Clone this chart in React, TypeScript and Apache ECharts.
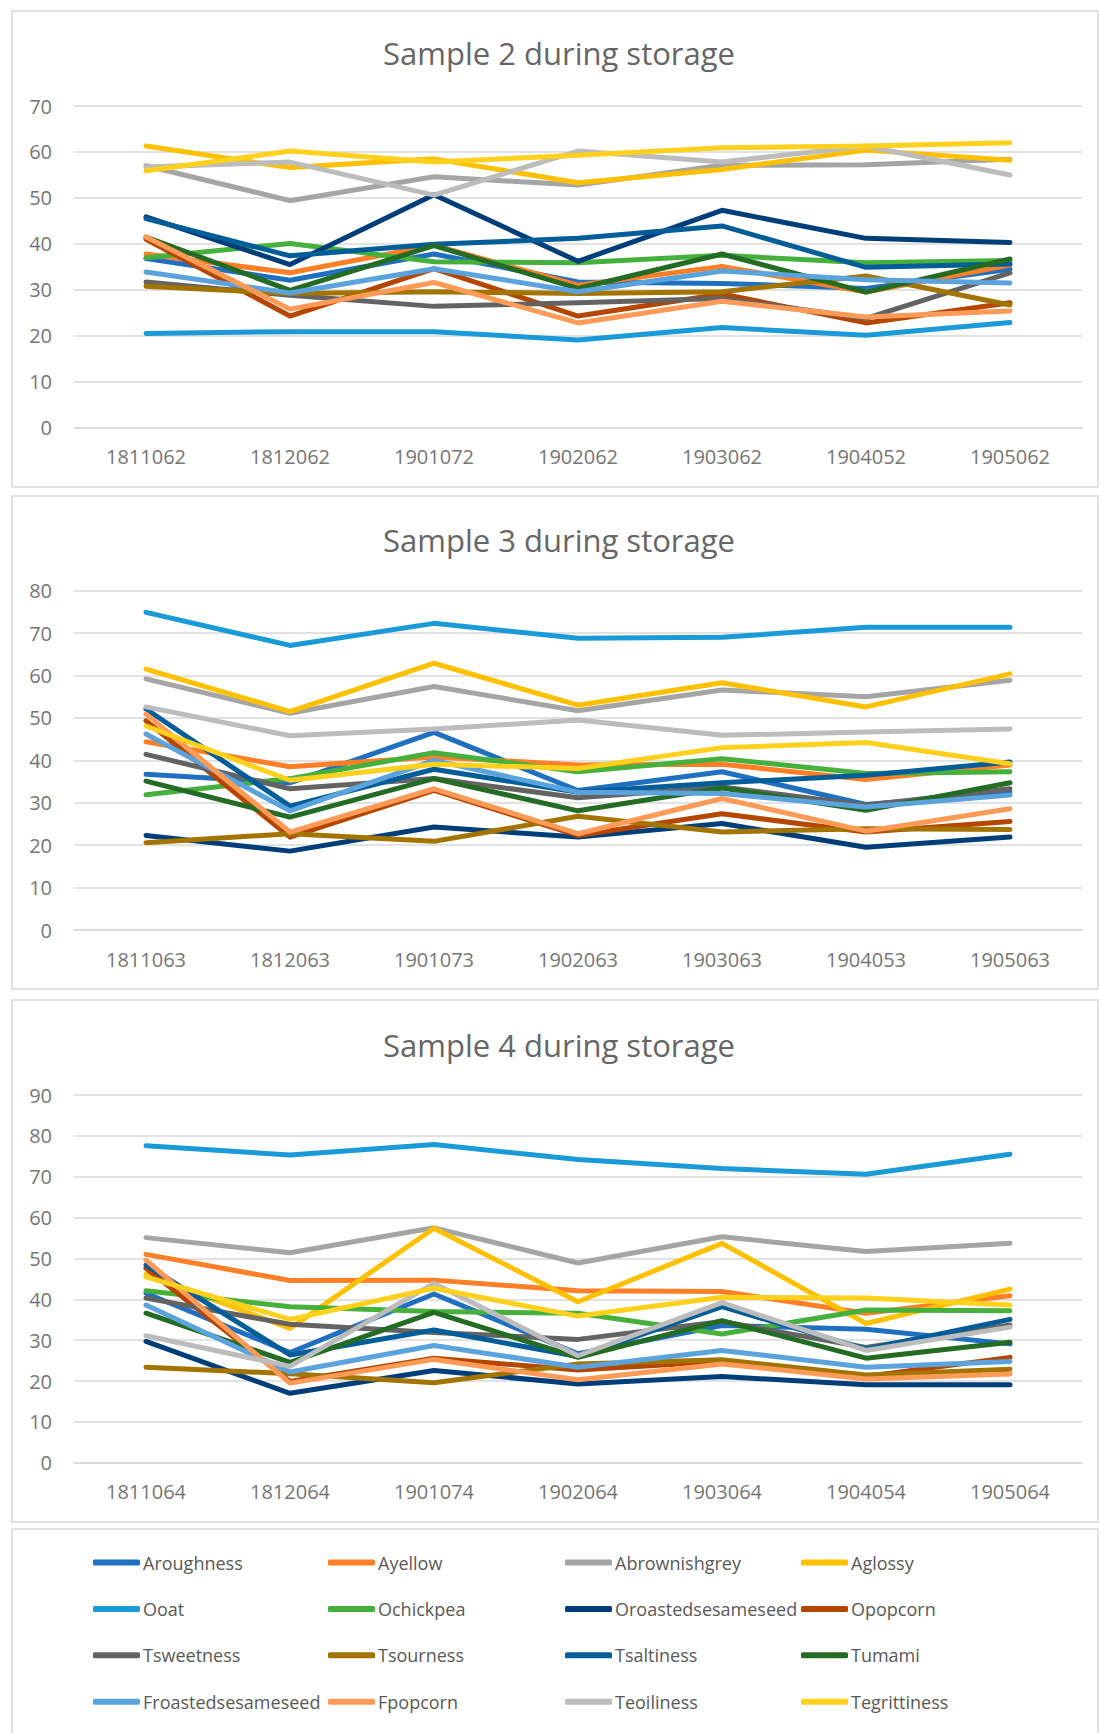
import React, { useEffect, useRef } from "react";
import * as echarts from "echarts";

// ---------- data ----------
const seriesNames = [
  "Aroughness", "Ayellow", "Abrownishgrey", "Aglossy",
  "Ooat", "Ochickpea", "Oroastedsesameseed", "Opopcorn",
  "Tsweetness", "Tsourness", "Tsaltiness", "Tumami",
  "Froastedsesameseed", "Fpopcorn", "Teoiliness", "Tegrittiness",
];
const seriesColors = [
  "#1F70C1", "#FF7F27", "#A5A5A5", "#FFC000",
  "#1A9AD6", "#46B03C", "#003E7A", "#B44600",
  "#636363", "#A37400", "#025D99", "#246B24",
  "#5BA3DD", "#FF9A57", "#BCBCBC", "#FFD11C",
];

const titles = ["Sample 2 during storage", "Sample 3 during storage", "Sample 4 during storage"];
const cats2 = ["1811062", "1812062", "1901072", "1902062", "1903062", "1904052", "1905062"];
const cats3 = ["1811063", "1812063", "1901073", "1902063", "1903063", "1904053", "1905063"];
const cats4 = ["1811064", "1812064", "1901074", "1902064", "1903064", "1904054", "1905064"];
const yMax = [70, 80, 90];

// Sample 2
const s2Aroughness = [36.8, 32.1, 37.8, 31.7, 31.4, 30.3, 34.5];
const s2Ayellow = [37.8, 33.7, 39.7, 31.0, 35.1, 29.5, 35.4];
const s2Abrownishgrey = [57.0, 49.4, 54.6, 52.8, 57.1, 57.2, 58.4];
const s2Aglossy = [61.3, 56.6, 58.5, 53.3, 56.2, 60.4, 58.2];
const s2Ooat = [20.5, 20.9, 20.9, 19.1, 21.8, 20.1, 22.9];
const s2Ochickpea = [37.0, 40.1, 36.1, 35.9, 37.5, 35.9, 36.4];
const s2Oroastedsesameseed = [45.9, 35.5, 50.7, 36.2, 47.3, 41.2, 40.3];
const s2Opopcorn = [41.0, 24.3, 34.6, 24.3, 29.1, 22.8, 27.2];
const s2Tsweetness = [31.7, 28.8, 26.4, 27.2, 28.1, 23.8, 33.7];
const s2Tsourness = [30.8, 29.2, 29.6, 29.2, 29.6, 33.0, 26.7];
const s2Tsaltiness = [45.5, 37.4, 39.9, 41.2, 43.9, 34.9, 35.6];
const s2Tumami = [41.5, 29.9, 39.6, 30.3, 37.8, 29.5, 36.7];
const s2Froastedsesameseed = [33.9, 29.3, 34.6, 29.6, 34.1, 32.2, 31.5];
const s2Fpopcorn = [41.5, 25.8, 31.6, 22.8, 27.5, 24.1, 25.4];
const s2Teoiliness = [56.7, 57.8, 50.6, 60.2, 57.8, 61.3, 55.0];
const s2Tegrittiness = [55.9, 60.2, 57.8, 59.3, 60.9, 61.3, 62.0];

// Sample 3
const s3Aroughness = [36.7, 34.7, 46.6, 32.9, 37.3, 29.6, 32.5];
const s3Ayellow = [44.4, 38.5, 40.8, 38.9, 39.1, 35.5, 38.9];
const s3Abrownishgrey = [59.2, 51.1, 57.4, 51.7, 56.6, 55.0, 58.9];
const s3Aglossy = [61.5, 51.5, 62.9, 53.0, 58.3, 52.6, 60.4];
const s3Ooat = [74.9, 67.1, 72.3, 68.8, 69.0, 71.4, 71.4];
const s3Ochickpea = [31.9, 35.7, 41.8, 37.3, 40.4, 36.9, 37.3];
const s3Oroastedsesameseed = [22.3, 18.6, 24.3, 21.9, 25.1, 19.5, 21.9];
const s3Opopcorn = [49.3, 21.9, 32.9, 22.3, 27.4, 23.1, 25.6];
const s3Tsweetness = [41.4, 33.3, 35.7, 31.2, 33.7, 29.4, 33.3];
const s3Tsourness = [20.6, 22.7, 20.9, 26.8, 23.1, 23.9, 23.7];
const s3Tsaltiness = [52.1, 29.2, 37.9, 32.5, 34.7, 36.5, 39.6];
const s3Tumami = [35.1, 26.6, 35.7, 28.1, 33.5, 28.2, 34.7];
const s3Froastedsesameseed = [46.2, 28.1, 40.0, 32.5, 32.2, 29.0, 31.8];
const s3Fpopcorn = [50.9, 23.1, 33.3, 22.7, 31.0, 23.3, 28.6];
const s3Teoiliness = [52.6, 45.8, 47.4, 49.5, 45.9, 46.7, 47.4];
const s3Tegrittiness = [48.1, 35.3, 39.1, 38.1, 43.0, 44.2, 39.2];

// Sample 4
const s4Aroughness = [41.5, 27.0, 41.3, 26.7, 33.6, 32.7, 29.1];
const s4Ayellow = [51.0, 44.6, 44.7, 42.1, 41.9, 36.6, 40.9];
const s4Abrownishgrey = [55.1, 51.4, 57.5, 48.9, 55.3, 51.7, 53.7];
const s4Aglossy = [46.1, 32.9, 57.4, 39.4, 53.7, 34.1, 42.5];
const s4Ooat = [77.6, 75.3, 77.9, 74.2, 72.0, 70.6, 75.5];
const s4Ochickpea = [42.1, 38.2, 37.0, 36.6, 31.5, 37.4, 37.2];
const s4Oroastedsesameseed = [29.7, 17.0, 22.6, 19.3, 21.1, 19.1, 19.1];
const s4Opopcorn = [47.6, 19.9, 25.6, 22.7, 24.8, 21.1, 25.8];
const s4Tsweetness = [40.3, 33.9, 31.9, 30.2, 34.6, 28.2, 33.7];
const s4Tsourness = [23.4, 21.8, 19.6, 24.2, 25.2, 21.5, 22.9];
const s4Tsaltiness = [48.4, 26.4, 32.5, 26.0, 38.2, 27.8, 35.1];
const s4Tumami = [36.6, 24.6, 36.8, 25.8, 34.8, 25.6, 29.5];
const s4Froastedsesameseed = [38.6, 22.2, 28.7, 23.4, 27.5, 23.4, 24.8];
const s4Fpopcorn = [49.6, 19.5, 25.3, 20.3, 24.2, 20.5, 21.7];
const s4Teoiliness = [31.1, 23.6, 43.9, 26.2, 39.2, 27.5, 33.2];
const s4Tegrittiness = [45.5, 35.1, 42.7, 35.9, 40.5, 40.3, 38.6];

const sample2 = [s2Aroughness, s2Ayellow, s2Abrownishgrey, s2Aglossy, s2Ooat, s2Ochickpea, s2Oroastedsesameseed, s2Opopcorn, s2Tsweetness, s2Tsourness, s2Tsaltiness, s2Tumami, s2Froastedsesameseed, s2Fpopcorn, s2Teoiliness, s2Tegrittiness];
const sample3 = [s3Aroughness, s3Ayellow, s3Abrownishgrey, s3Aglossy, s3Ooat, s3Ochickpea, s3Oroastedsesameseed, s3Opopcorn, s3Tsweetness, s3Tsourness, s3Tsaltiness, s3Tumami, s3Froastedsesameseed, s3Fpopcorn, s3Teoiliness, s3Tegrittiness];
const sample4 = [s4Aroughness, s4Ayellow, s4Abrownishgrey, s4Aglossy, s4Ooat, s4Ochickpea, s4Oroastedsesameseed, s4Opopcorn, s4Tsweetness, s4Tsourness, s4Tsaltiness, s4Tumami, s4Froastedsesameseed, s4Fpopcorn, s4Teoiliness, s4Tegrittiness];

// ---------- layout ----------
const FONT = "'Open Sans', 'Noto Sans', sans-serif";
const GRID_COLOR = "#D9D9D9";
const LABEL_COLOR = "#767676";
const panels = [
  { y: 11, h: 476, gridTop: 106, gridH: 321.7, titleY: 53 },
  { y: 496, h: 493, gridTop: 590.7, gridH: 339.3, titleY: 540 },
  { y: 1000, h: 522, gridTop: 1095, gridH: 367.8, titleY: 1044.5 },
];
const legendCols = [93, 328, 565, 801];

export default function App() {
  const ref = useRef<HTMLDivElement>(null);
  useEffect(() => {
    if (!ref.current) return;
    const chart = echarts.init(ref.current, null, { renderer: "svg" });
    const cats = [cats2, cats3, cats4];
    const samples = [sample2, sample3, sample4];

    const grids = panels.map((p) => ({ left: 74, width: 1008, top: p.gridTop, height: p.gridH }));
    const xAxes = cats.map((c, i) => ({
      type: "category",
      gridIndex: i,
      data: c,
      boundaryGap: true,
      axisTick: { show: false },
      axisLine: { show: true, lineStyle: { color: GRID_COLOR, width: 1.5 } },
      axisLabel: { color: LABEL_COLOR, fontSize: 20, fontFamily: FONT, margin: 19 },
    }));
    const yAxes = yMax.map((m, i) => ({
      type: "value",
      gridIndex: i,
      min: 0,
      max: m,
      interval: 10,
      axisLine: { show: false },
      axisTick: { show: false },
      splitLine: { show: true, lineStyle: { color: GRID_COLOR, width: 1.5 } },
      axisLabel: { color: LABEL_COLOR, fontSize: 20, fontFamily: FONT, margin: 22 },
    }));
    const series: any[] = [];
    samples.forEach((sample, g) => {
      sample.forEach((vals, i) => {
        series.push({
          type: "line",
          name: seriesNames[i],
          xAxisIndex: g,
          yAxisIndex: g,
          data: vals,
          symbol: "none",
          showSymbol: false,
          lineStyle: { width: 5, color: seriesColors[i], cap: "round", join: "round" },
          itemStyle: { color: seriesColors[i] },
          emphasis: { disabled: true },
        });
      });
    });
    const legends = legendCols.map((left, c) => ({
      orient: "vertical",
      left,
      top: 1552.5,
      padding: 0,
      data: [0, 1, 2, 3].map((r) => seriesNames[r * 4 + c]),
      icon: "roundRect",
      itemWidth: 47,
      itemHeight: 6,
      itemGap: 26.4,
      selectedMode: false,
      textStyle: { fontSize: 18, fontFamily: FONT, color: "#595959", lineHeight: 20, padding: [0, 0, 0, -2] },
    }));
    const graphics: any[] = [];
    panels.forEach((p, i) => {
      graphics.push({
        type: "rect",
        z: -10,
        shape: { x: 12, y: p.y, width: 1086, height: p.h },
        style: { fill: "#FFFFFF", stroke: GRID_COLOR, lineWidth: 1.5 },
      });
      graphics.push({
        type: "text",
        x: 559,
        y: p.titleY,
        style: {
          text: titles[i],
          fill: "#666666",
          fontSize: 31,
          fontFamily: FONT,
          align: "center",
          verticalAlign: "middle",
          textAlign: "center",
          textVerticalAlign: "middle",
        },
      });
    });
    graphics.push({
      type: "rect",
      z: -10,
      shape: { x: 12, y: 1529, width: 1086, height: 230 },
      style: { fill: "#FFFFFF", stroke: GRID_COLOR, lineWidth: 1.5 },
    });

    chart.setOption({
      animation: false,
      backgroundColor: "#FFFFFF",
      grid: grids,
      xAxis: xAxes,
      yAxis: yAxes,
      legend: legends,
      series,
      graphic: graphics,
    });
    return () => chart.dispose();
  }, []);
  return (
    <div
      ref={ref}
      style={{ position: "absolute", left: 0, top: 0, width: 1100, height: 1733 }}
    />
  );
}
